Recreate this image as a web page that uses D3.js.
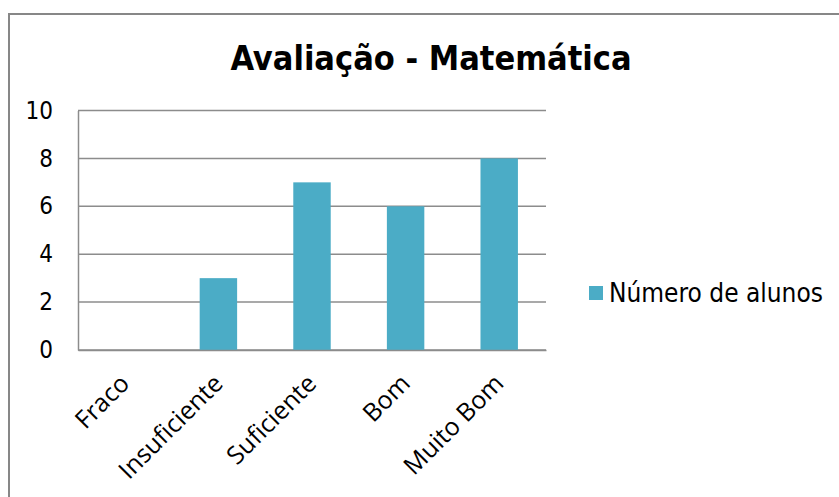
<!DOCTYPE html>
<html>
<head>
<meta charset="utf-8">
<script src="https://cdn.jsdelivr.net/npm/d3@7"></script>
<style>
  body { margin: 0; background: #fff; }
  svg { display: block; }
</style>
</head>
<body>
<svg id="chart" width="839" height="497"></svg>
<script>
// dados do gráfico
var categories = ['Fraco', 'Insuficiente', 'Suficiente', 'Bom', 'Muito Bom'];
var alunos = [0, 3, 7, 6, 8];
var yTicks = [0, 2, 4, 6, 8, 10];
var seriesName = 'Número de alunos';
var title = 'Avaliação - Matemática';

const svg = d3.select('#chart');
const margin = { left: 78, top: 110.5, right: 546, bottom: 350 };

// moldura
svg.append('path')
    .attr('d', 'M9,500 L9,14 L839,14')
    .attr('fill', 'none')
    .attr('stroke', '#878787')
    .attr('stroke-width', 2);

svg.append('text')
    .attr('x', 431)
    .attr('y', 70)
    .attr('text-anchor', 'middle')
    .style('font-family', 'DejaVu Sans Condensed, DejaVu Sans')
    .style('font-weight', 'bold')
    .style('font-size', '34px')
    .style('fill', '#000')
    .text(title);

var xScale = d3.scaleBand()
    .domain(categories)
    .range([margin.left, margin.right])
    .paddingInner(0.6)
    .paddingOuter(0.3);

var yScale = d3.scaleLinear()
    .domain([0, 10])
    .range([margin.bottom, margin.top]);

// linhas de grade
svg.append('g')
    .selectAll('line')
    .data(yTicks)
    .join('line')
    .attr('x1', margin.left)
    .attr('x2', margin.right)
    .attr('y1', d => yScale(d))
    .attr('y2', d => yScale(d))
    .attr('stroke', '#8c8c8c')
    .attr('stroke-width', 1.5);

// eixo y
var yAxis = svg.append('g')
    .attr('transform', `translate(${margin.left},0)`)
    .call(d3.axisLeft(yScale).tickValues(yTicks).tickSize(0).tickPadding(25));
yAxis.select('.domain').attr('stroke', '#8c8c8c').attr('stroke-width', 1.5);
yAxis.selectAll('text')
    .style('font-family', 'DejaVu Sans Condensed, DejaVu Sans')
    .style('font-size', '24px')
    .style('fill', '#000');

// barras
svg.append('g')
    .selectAll('rect')
    .data(alunos)
    .join('rect')
    .attr('x', (d, i) => xScale(categories[i]))
    .attr('y', d => yScale(d))
    .attr('width', xScale.bandwidth())
    .attr('height', d => yScale(0) - yScale(d))
    .attr('fill', '#4BACC6');

// eixo x
var xAxis = svg.append('g')
    .attr('transform', `translate(0,${margin.bottom})`)
    .call(d3.axisBottom(xScale).tickSize(0).tickSizeOuter(0));
xAxis.select('.domain').attr('stroke', '#8c8c8c').attr('stroke-width', 1.5);
xAxis.selectAll('text')
    .attr('text-anchor', 'end')
    .attr('dy', 0)
    .attr('y', 0)
    .attr('transform', 'translate(6,35) rotate(-45)')
    .style('font-family', 'Open Sans')
    .style('font-size', '25px')
    .style('fill', '#000');

// legenda
var legend = svg.append('g');
legend.append('rect')
    .attr('x', 589)
    .attr('y', 286)
    .attr('width', 14)
    .attr('height', 14)
    .attr('fill', '#4BACC6');
legend.append('text')
    .attr('x', 609)
    .attr('y', 302)
    .style('font-family', 'DejaVu Sans Condensed, DejaVu Sans')
    .style('font-size', '26px')
    .style('fill', '#000')
    .text(seriesName);
</script>
</body>
</html>
